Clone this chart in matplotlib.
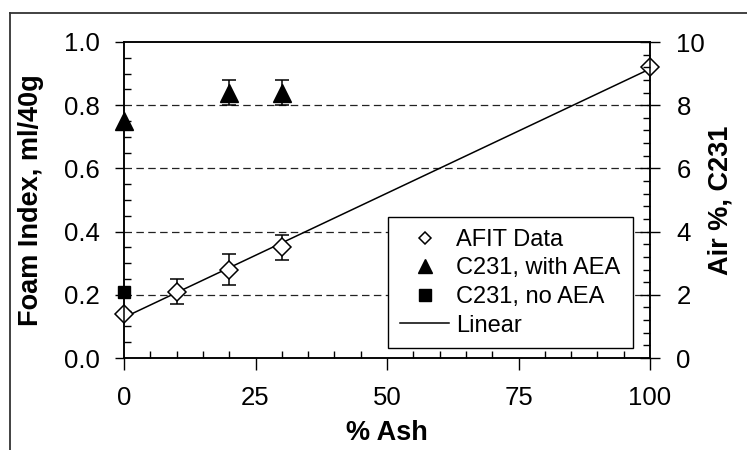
import matplotlib
matplotlib.use("Agg")
import matplotlib.pyplot as plt  # noqa: E402
import numpy as np  # noqa: E402
from matplotlib.lines import Line2D  # noqa: E402
from matplotlib.ticker import MultipleLocator, FormatStrFormatter  # noqa: E402

plt.rcParams["font.family"] = ["Liberation Sans", "DejaVu Sans"]

# --- data ---
ash = [0, 10, 20, 30, 100]
foam = [0.14, 0.21, 0.28, 0.35, 0.92]
foam_err = [0.0, 0.04, 0.05, 0.04, 0.0]

aea_ash = [0, 20, 30]
aea_air = [7.5, 8.4, 8.4]
aea_err = [0.0, 0.4, 0.4]

noaea_ash = [0]
noaea_air = [2.1]

grid_levels = [0.2, 0.4, 0.6, 0.8]

fig = plt.figure(figsize=(7.47, 4.5), dpi=100)
ax = fig.add_axes([124 / 747, 1 - 358 / 450, (650 - 124) / 747, (358 - 42) / 450])
ax2 = ax.twinx()

# outer frame (cropped box around the chart)
fig.add_artist(Line2D([10 / 747, 1.0], [1 - 13 / 450] * 2, color="#333333", lw=1.3,
                      transform=fig.transFigure))
fig.add_artist(Line2D([10 / 747] * 2, [0, 1 - 13 / 450], color="#333333", lw=1.3,
                      transform=fig.transFigure))

for lvl in grid_levels:
    ax.axhline(lvl, color="#222222", lw=0.9, ls=(0, (6, 3.5)), zorder=1)

# linear fit to the AFIT data
slope, icpt = np.polyfit(ash, foam, 1)
xs = np.array([0, 100])
ax.plot(xs, icpt + slope * xs, color="black", lw=1.1, zorder=2)

eb_idx = [i for i, e in enumerate(foam_err) if e > 0]
ax.errorbar([ash[i] for i in eb_idx], [foam[i] for i in eb_idx],
            yerr=[foam_err[i] for i in eb_idx], fmt="none", ecolor="black",
            elinewidth=1.1, capsize=5, capthick=1.1, zorder=3)
ax.plot(ash, foam, ls="none", marker="D", ms=9.2, mfc="white", mec="black",
        mew=1.1, zorder=4, clip_on=False)

ea_idx = [i for i, e in enumerate(aea_err) if e > 0]
ax2.errorbar([aea_ash[i] for i in ea_idx], [aea_air[i] for i in ea_idx],
             yerr=[aea_err[i] for i in ea_idx], fmt="none", ecolor="black",
             elinewidth=1.1, capsize=5, capthick=1.1, zorder=3)
ax2.plot(aea_ash, aea_air, ls="none", marker="^", ms=13, color="black",
         zorder=4, clip_on=False)
ax2.plot(noaea_ash, noaea_air, ls="none", marker="s", ms=8.6, color="black",
         zorder=4, clip_on=False)

ax.set_xlim(0, 100)
ax.set_ylim(0, 1.0)
ax2.set_ylim(0, 10)

ax.xaxis.set_major_locator(MultipleLocator(25))
ax.xaxis.set_minor_locator(MultipleLocator(5))
ax.yaxis.set_major_locator(MultipleLocator(0.2))
ax.yaxis.set_minor_locator(MultipleLocator(0.05))
ax2.yaxis.set_major_locator(MultipleLocator(2))
ax2.yaxis.set_minor_locator(MultipleLocator(0.4))
ax.yaxis.set_major_formatter(FormatStrFormatter("%.1f"))

ax.tick_params(axis="x", which="major", direction="out", length=8.5, width=1, pad=12,
               labelsize=18.5)
ax.tick_params(axis="x", which="minor", direction="in", length=5, width=1)
ax.tick_params(axis="y", which="major", direction="out", length=6.5, width=1, pad=11,
               labelsize=18.5)
ax.tick_params(axis="y", which="minor", direction="in", length=5, width=1)
ax2.tick_params(axis="y", which="major", direction="inout", length=14, width=1, pad=12,
                labelsize=18.5)
ax2.tick_params(axis="y", which="minor", direction="in", length=5, width=1)

for a in (ax, ax2):
    for s in a.spines.values():
        s.set_linewidth(1.1)

ax.set_xlabel("% Ash", fontsize=19.5, fontweight="bold", labelpad=7)
ax.set_ylabel("Foam Index, ml/40g", fontsize=19.5, fontweight="bold", labelpad=14)
ax2.set_ylabel("Air %, C231", fontsize=19.5, fontweight="bold", labelpad=2)

handles = [
    Line2D([], [], ls="none", marker="D", ms=6.5, mfc="white", mec="black", mew=1.1),
    Line2D([], [], ls="none", marker="^", ms=10, color="black"),
    Line2D([], [], ls="none", marker="s", ms=8, color="black"),
    Line2D([], [], color="black", lw=1.1),
]
labels = ["AFIT Data", "C231, with AEA", "C231, no AEA", "Linear"]
leg = ax2.legend(handles, labels, loc="upper left",
                 bbox_to_anchor=(388 / 747, 1 - 217 / 450), bbox_transform=fig.transFigure,
                 borderaxespad=0, fontsize=17, frameon=True, fancybox=False,
                 edgecolor="black", framealpha=1, handlelength=2.1, handletextpad=0.3,
                 labelspacing=0.28, borderpad=0.5)
leg.get_frame().set_linewidth(1)

fig.savefig("out.png", dpi=100)
